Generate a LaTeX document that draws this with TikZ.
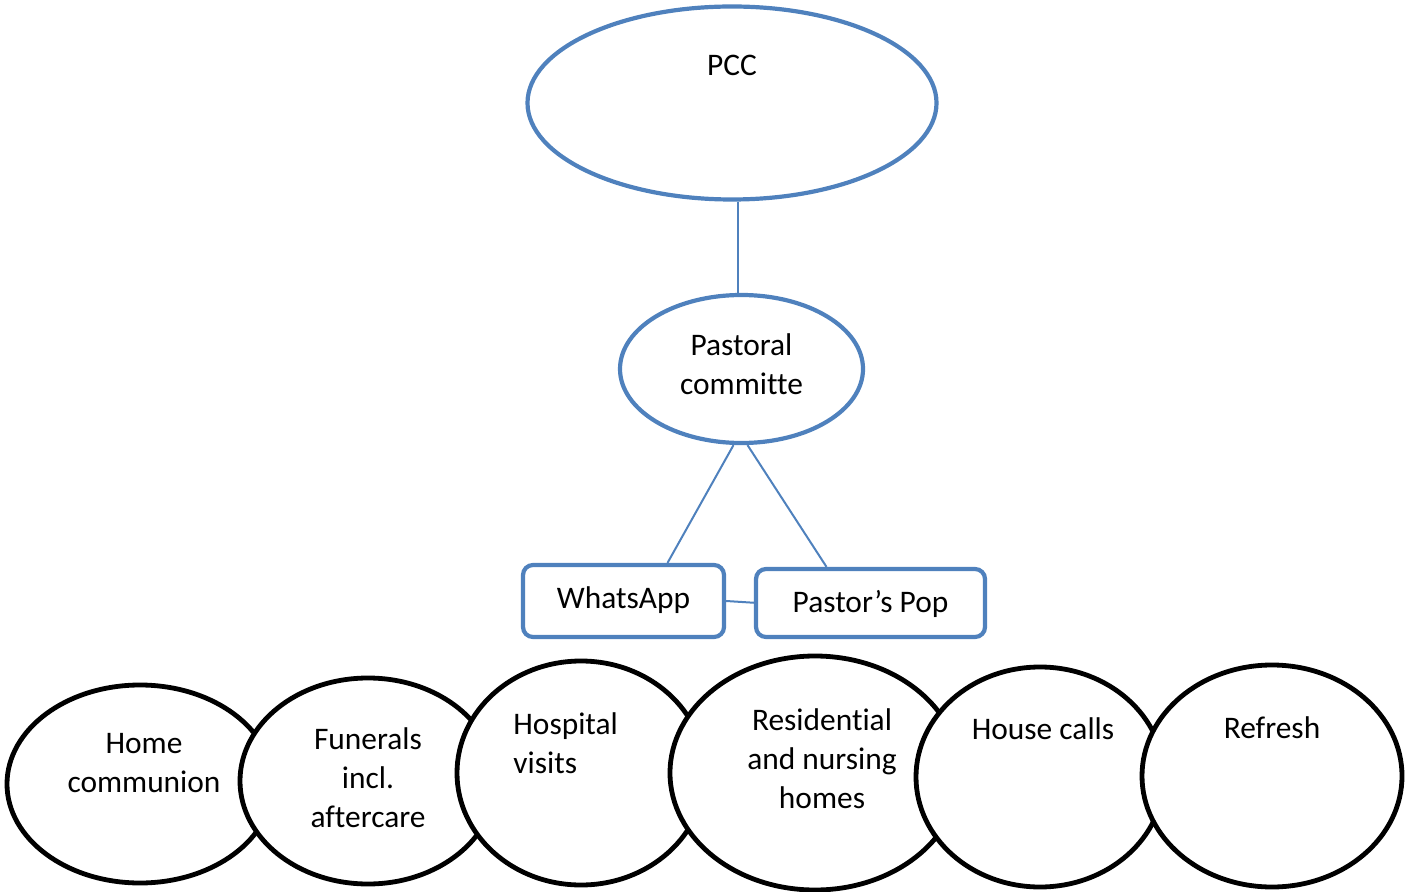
\documentclass[tikz,border=0pt]{standalone}
\usepackage{fontspec}
\setmainfont{Carlito}[Ligatures=NoCommon]
\usetikzlibrary{shapes.geometric}
\definecolor{officeblue}{HTML}{4F81BD}
\tikzset{ top/.style = { ellipse
                       , draw         = officeblue
                       , line width   = 2.1pt
                       , inner sep    = 0pt
                       },
          box/.style = { rectangle
                       , draw         = officeblue
                       , line width   = 2.1pt
                       , rounded corners = 5pt
                       , inner sep    = 0pt
                       },
         task/.style = { ellipse
                       , draw         = black
                       , fill         = white
                       , line width   = 2.4pt
                       , inner sep    = 0pt
                       },
          txt/.style = { align = center
                       , inner sep = 0pt
                       },
         link/.style = { draw = officeblue
                       , line width = 1pt
                       }
        }

\begin{document}
\begin{tikzpicture}[x=0.5pt, y=-0.5pt,
            font=\fontsize{15.7}{19.5}\selectfont]
            \useasboundingbox (0,0) rectangle (1406,892);
            % committees
            \node[top, minimum width=204.5pt, minimum height=96.5pt] (pcc) at (732,103) {};
            \node[txt] (pcct) at (732,65) {PCC};
            \node[top, minimum width=121.5pt, minimum height=74pt] (past) at (741.5,369) {};
            \node[txt] (pastt) at (741.5,364.5) {Pastoral\\committe};
            \node[box, minimum width=100.5pt, minimum height=36pt] (app) at (623.5,601) {};
            \node[txt] (appt) at (623.5,600) {WhatsApp};
            \node[box, minimum width=114.5pt, minimum height=34pt] (pop) at (870.5,603) {};
            \node[txt] (popt) at (870.5,604) {Pastor’s Pop};
            \path[link] ([xshift=-2pt]past.north |- pcc.south) -- ([xshift=-2pt]past.north);
            \path[link] ([xshift=-4pt]past.south) -- ([xshift=22pt]app.north);
            \path[link] ([xshift=3pt]past.south) -- ([xshift=-22pt]pop.north);
            \path[link] (app.east) -- ([xshift=2pt]pop.west);
            % tasks, drawn left to right so each one lies over the last
            \node[task, minimum width=133pt, minimum height=99pt] (home) at (140,784) {};
            \node[txt] (homet) at (144,763.5) {Home\\communion};
            \node[task, minimum width=128pt, minimum height=103pt] (fun) at (368,781) {};
            \node[txt] (funt) at (368,778) {Funerals\\incl.\\aftercare};
            \node[task, minimum width=124pt, minimum height=112pt] (hosp) at (581,773) {};
            \node[txt, align=left, anchor=west] (hospt) at (513,743.5) {Hospital\\visits};
            \node[task, minimum width=145pt, minimum height=117pt] (res) at (815,773) {};
            \node[txt] (rest) at (822,759) {Residential\\and nursing\\homes};
            \node[task, minimum width=124pt, minimum height=110pt] (house) at (1040,777) {};
            \node[txt] (houset) at (1043,729) {House calls};
            \node[task, minimum width=130pt, minimum height=111pt] (fresh) at (1272,776) {};
            \node[txt] (fresht) at (1272,728) {Refresh};
\end{tikzpicture}
\end{document}
